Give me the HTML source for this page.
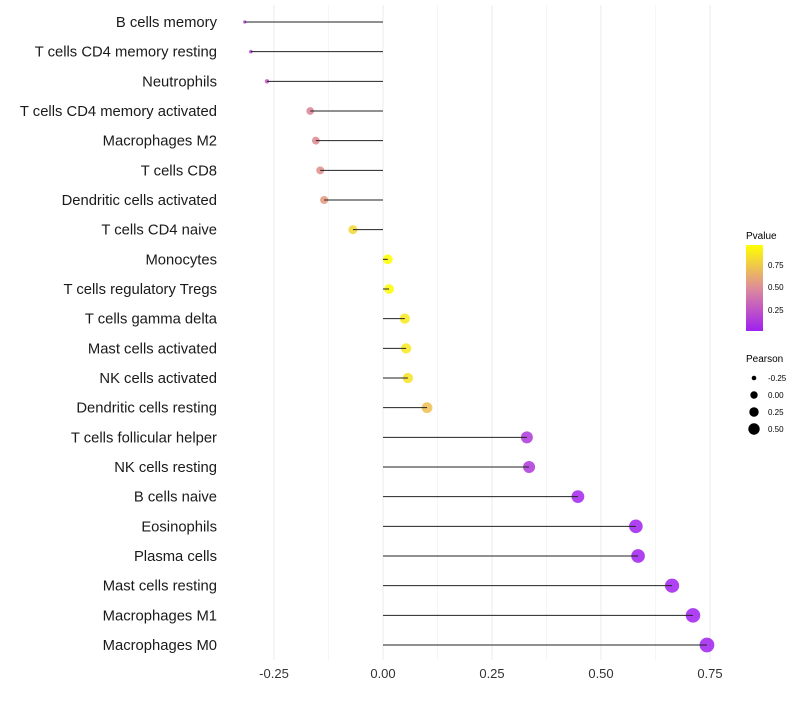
<!DOCTYPE html>
<html><head><meta charset="utf-8"><style>
body{margin:0;background:#fff;font-family:"Liberation Sans",sans-serif}
</style></head><body>
<svg id="chart" width="800" height="700" xmlns="http://www.w3.org/2000/svg" font-family="Liberation Sans, sans-serif">
<defs><linearGradient id="pg" x1="0" y1="1" x2="0" y2="0">
<stop offset="0" stop-color="#A020F0"/><stop offset="0.5" stop-color="#DE8C9A"/><stop offset="1" stop-color="#FFFF00"/></linearGradient></defs>
<g id="grid"></g><g id="dots"></g><g id="marks"></g><g id="ylabels"></g><g id="xlabels"></g>
<g>
<text x="746" y="239" font-size="10">Pvalue</text>
<rect x="746" y="245" width="17" height="86" fill="url(#pg)"/>
<text x="768" y="268" font-size="8">0.75</text>
<text x="768" y="290" font-size="8">0.50</text>
<text x="768" y="313" font-size="8">0.25</text>
</g>
<g>
<text x="746" y="362" font-size="10">Pearson</text>
<circle cx="754" cy="378" r="2.3"/><text x="768" y="381" font-size="8">-0.25</text>
<circle cx="754" cy="395" r="3.7"/><text x="768" y="398" font-size="8">0.00</text>
<circle cx="754" cy="412" r="4.7"/><text x="768" y="415" font-size="8">0.25</text>
<circle cx="754" cy="429" r="5.7"/><text x="768" y="432" font-size="8">0.50</text>
</g>
</svg>
<script>
const cells=["B cells memory","T cells CD4 memory resting","Neutrophils","T cells CD4 memory activated","Macrophages M2","T cells CD8","Dendritic cells activated","T cells CD4 naive","Monocytes","T cells regulatory  Tregs ","T cells gamma delta","Mast cells activated","NK cells activated","Dendritic cells resting","T cells follicular helper","NK cells resting","B cells naive","Eosinophils","Plasma cells","Mast cells resting","Macrophages M1","Macrophages M0"];
const pearson=[-0.317,-0.303,-0.266,-0.167,-0.154,-0.144,-0.135,-0.069,0.011,0.014,0.050,0.053,0.057,0.101,0.330,0.335,0.447,0.580,0.585,0.663,0.711,0.743];
const pvalue=[0.15,0.17,0.25,0.45,0.47,0.5,0.55,0.8,0.97,0.96,0.88,0.87,0.85,0.7,0.12,0.12,0.04,0.005,0.005,0.001,0.001,0.001];
const xticks=[-0.25,0,0.25,0.5,0.75];
const xtickLabels=["-0.25","0.00","0.25","0.50","0.75"];
const NS="http://www.w3.org/2000/svg";
const xs=v=>383+v*436;
const ys=i=>22+i*(645-22)/(cells.length-1);
const sizeV=[-0.32,-0.27,-0.17,-0.07,0.01,0.1,0.33,0.45,0.58,0.75];
const sizeR=[1.6,2.2,3.8,4.5,4.9,5.4,6,6.4,6.8,7.4];
function rad(v){if(v<=sizeV[0])return sizeR[0];for(let i=1;i<sizeV.length;i++){if(v<=sizeV[i]){const t=(v-sizeV[i-1])/(sizeV[i]-sizeV[i-1]);return sizeR[i-1]+t*(sizeR[i]-sizeR[i-1]);}}return sizeR[sizeR.length-1];}
function mk(t,a,p){const e=document.createElementNS(NS,t);for(const k in a)e.setAttribute(k,a[k]);p.appendChild(e);return e;}
function lerp(a,b,t){return a.map((x,i)=>Math.round(x+(b[i]-x)*t));}
function col(p){const t=Math.max(0,Math.min(1,(p-0.02)/(0.97-0.02)));
const c0=[160,32,240],c1=[225,140,140],c2=[255,255,0];
const c=t<0.5?lerp(c0,c1,t/0.5):lerp(c1,c2,(t-0.5)/0.5);return `rgb(${c})`;}
const grid=document.getElementById('grid'),marks=document.getElementById('marks'),dots=document.getElementById('dots'),yl=document.getElementById('ylabels'),xl=document.getElementById('xlabels');
xticks.forEach((v,i)=>{
 const g=mk('line',{x1:xs(v),x2:xs(v),y1:5,y2:660,stroke:'#ebebeb','stroke-width':1},grid);
 
 
 if(i<xticks.length-1){const m=mk('line',{x1:xs(v+0.125),x2:xs(v+0.125),y1:5,y2:660,stroke:'#f5f5f5','stroke-width':1},grid);
 
 }
 const t=mk('text',{x:xs(v),y:678,'font-size':13,'text-anchor':'middle',fill:'#333'},xl);t.textContent=xtickLabels[i];
 
 
});
cells.forEach((c,i)=>{
 const y=ys(i);
 const d=mk('circle',{cx:xs(pearson[i]),cy:y,r:rad(pearson[i]),fill:col(pvalue[i]),'fill-opacity':0.85},dots);
 
 
 const l=mk('line',{x1:xs(0),x2:xs(pearson[i]),y1:y,y2:y,stroke:'#222','stroke-width':1},marks);
 
 
 const t=mk('text',{x:217,y:y+5,'font-size':14.8,'text-anchor':'end',fill:'#1a1a1a','xml:space':'preserve'},yl);t.textContent=c;
 
 
});
</script>
</body></html>
